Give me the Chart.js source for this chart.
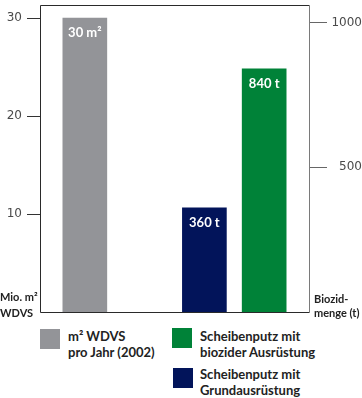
<!DOCTYPE html>
<html>
<head>
<meta charset="utf-8">
<script src="https://cdn.jsdelivr.net/npm/chart.js@4/dist/chart.umd.min.js"></script>
<style>
  body { margin: 0; background: #fff; width: 362px; height: 398px; overflow: hidden; font-family: Lato, sans-serif; }
  #wrap { position: absolute; left: 0; top: 0; width: 362px; height: 325px; }
  .sw { position: absolute; width: 20px; height: 20px; }
  .leg { position: absolute; font-weight: bold; font-size: 13px; line-height: 16px; color: #222; white-space: nowrap; }
</style>
</head>
<body>
<div id="wrap"><canvas id="chart"></canvas></div>
<div id="legend"></div>
<script>
// Kategorien (leere Plätze für die Abstände zwischen den Balken)
const categories = ["", "WDVS", "", "", "", "Grundausrüstung", "", "biozide Ausrüstung", ""];

// Werte: Mio. m² WDVS (linke Achse) und Biozidmenge in t (rechte Achse)
const wdvsArea   = [null, 30, null, null, null, null, null, null, null];
const grundMenge = [null, null, null, null, null, 360, null, null, null];
const biozidMenge = [null, null, null, null, null, null, null, 840, null];

const seriesNames = ["m² WDVS\npro Jahr (2002)", "Scheibenputz mit\nGrundausrüstung", "Scheibenputz mit\nbiozider Ausrüstung"];
const barLabels = ["30 m²", "360 t", "840 t"];

const leftTicks = [10, 20, 30];
const rightTicks = [500, 1000];

const colors = ["rgb(147,148,152)", "rgb(2,20,90)", "rgb(0,130,56)"];

// Rahmen um die Zeichenfläche
const framePlugin = {
  id: "frame",
  afterDraw(chart) {
    const { ctx, chartArea: a } = chart;
    ctx.save();
    ctx.lineWidth = 1;
    ctx.strokeStyle = "#2a2a2a";
    ctx.beginPath();
    ctx.moveTo(Math.round(a.right) + 0.5, Math.round(a.top) + 0.5);
    ctx.lineTo(Math.round(a.left) + 0.5, Math.round(a.top) + 0.5);
    ctx.lineTo(Math.round(a.left) + 0.5, Math.round(a.bottom) + 0.5);
    ctx.lineTo(Math.round(a.right) + 0.5, Math.round(a.bottom) + 0.5);
    ctx.stroke();
    ctx.strokeStyle = "#7a7a7a";
    ctx.beginPath();
    ctx.moveTo(Math.round(a.right) + 0.5, Math.round(a.top) + 0.5);
    ctx.lineTo(Math.round(a.right) + 0.5, Math.round(a.bottom) + 0.5);
    ctx.stroke();

    // Achsentitel unten links / rechts
    ctx.fillStyle = "#222";
    ctx.font = "bold 11px Lato";
    ctx.textBaseline = "middle";
    ctx.textAlign = "left";
    ctx.fillText("Mio. m²", 0, a.bottom - 15);
    ctx.fillText("WDVS", 0, a.bottom + 1);
    ctx.fillText("Biozid-", a.right + 5, a.bottom - 13);
    ctx.fillText("menge (t)", a.right + 5, a.bottom + 1);

    // Werte in den Balken
    ctx.fillStyle = "#fff";
    ctx.font = "bold 13px Lato";
    ctx.textAlign = "center";
    chart.data.datasets.forEach((ds, i) => {
      chart.getDatasetMeta(i).data.forEach((bar, j) => {
        if (ds.data[j] == null) return;
        ctx.fillText(barLabels[i], bar.x, bar.y + 15);
      });
    });
    ctx.restore();
  }
};

const tickFont = { family: "DejaVu Sans", size: 12 };

new Chart(document.getElementById("chart"), {
  type: "bar",
  data: {
    labels: categories,
    datasets: [
      { label: seriesNames[0], data: wdvsArea, backgroundColor: colors[0], yAxisID: "y", grouped: false, barThickness: 44 },
      { label: seriesNames[1], data: grundMenge, backgroundColor: colors[1], yAxisID: "y2", grouped: false, barThickness: 44 },
      { label: seriesNames[2], data: biozidMenge, backgroundColor: colors[2], yAxisID: "y2", grouped: false, barThickness: 44 }
    ]
  },
  options: {
    responsive: true,
    maintainAspectRatio: false,
    animation: false,
    layout: { padding: { top: 5, bottom: 13, left: 0, right: 0 } },
    plugins: { legend: { display: false }, tooltip: { enabled: false } },
    scales: {
      x: { display: false },
      y: {
        position: "left",
        min: 0,
        max: 31.33,
        afterBuildTicks(s) { s.ticks = leftTicks.map(v => ({ value: v })); },
        afterFit(s) { s.width = 40; s.paddingTop = 0; s.paddingBottom = 0; },
        border: { display: false },
        grid: { drawOnChartArea: false, drawTicks: true, tickLength: 13, color: "#333" },
        ticks: { font: tickFont, color: "#4a4a4a", padding: 5, callback: v => String(v) }
      },
      y2: {
        position: "right",
        min: 0,
        max: 1060,
        afterBuildTicks(s) { s.ticks = rightTicks.map(v => ({ value: v })); },
        afterFit(s) { s.width = 53; s.paddingTop = 0; s.paddingBottom = 0; },
        border: { display: false },
        grid: { drawOnChartArea: false, drawTicks: true, tickLength: 18, color: "#666" },
        ticks: { font: tickFont, color: "#4a4a4a", padding: 3, crossAlign: "far", callback: v => String(v) }
      }
    }
  },
  plugins: [framePlugin]
});

// Legende (zweispaltig wie im Original)
const legendSpots = [
  { i: 0, sx: 40, sy: 329, tx: 68, ty: 328 },
  { i: 2, sx: 172, sy: 328, tx: 200, ty: 328 },
  { i: 1, sx: 173, sy: 368, tx: 200, ty: 366 }
];
const legend = document.getElementById("legend");
legendSpots.forEach(p => {
  const sw = document.createElement("div");
  sw.className = "sw";
  sw.style.left = p.sx + "px";
  sw.style.top = p.sy + "px";
  sw.style.background = colors[p.i];
  legend.appendChild(sw);
  const t = document.createElement("div");
  t.className = "leg";
  t.style.left = p.tx + "px";
  t.style.top = p.ty + "px";
  t.innerHTML = seriesNames[p.i].replace("\n", "<br>");
  legend.appendChild(t);
});
</script>
</body>
</html>
